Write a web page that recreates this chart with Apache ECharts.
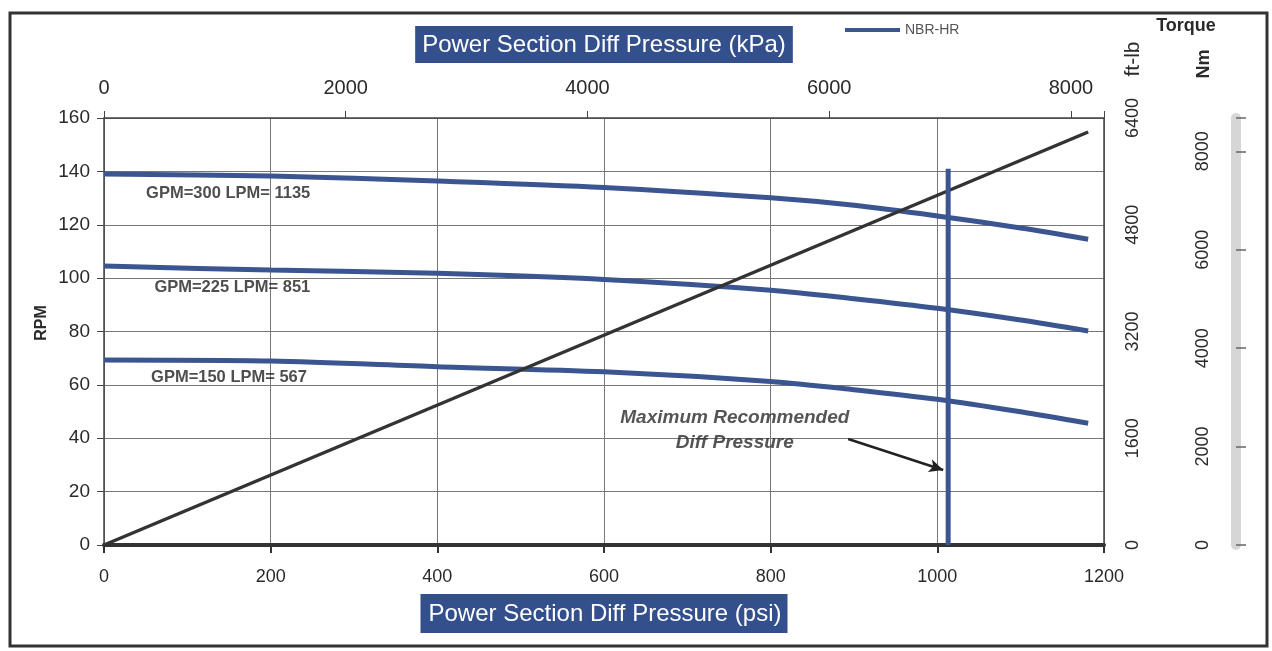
<!DOCTYPE html>
<html><head><meta charset="utf-8">
<script src="https://cdn.jsdelivr.net/npm/echarts@6/dist/echarts.min.js"></script>
<style>html,body{margin:0;padding:0;background:#fff}#c{width:1272px;height:651px}</style>
</head><body><div id="c"></div>
<script>
// ---- data ----
const psiPoints = [0, 200, 400, 600, 800, 900, 1000, 1100, 1181];
const rpm300 = [139.0, 138.3, 136.4, 134.0, 130.1, 127.3, 123.3, 118.8, 114.6];
const rpm225 = [104.5, 103.0, 101.8, 99.5, 95.5, 92.3, 88.7, 84.3, 80.2];
const rpm150 = [69.3, 68.9, 66.8, 64.9, 61.3, 58.2, 54.6, 49.9, 45.6];
const torquePsi = [0, 1181];
const torqueFtlb = [0, 6190];
const maxDiffPsi = 1013;
const maxDiffRpmTop = 141;
const curveLabels = ['GPM=300 LPM= 1135', 'GPM=225 LPM= 851', 'GPM=150 LPM= 567'];
const curveLabelAt = [[149, 131.9], [154, 96.5], [150, 62.8]];
const noteText = 'Maximum Recommended\nDiff Pressure';
const noteAt = [757, 43.1];
const arrowFrom = [893, 39.7];
const arrowTo = [1007, 28.1];
const PSI_TO_KPA = 6.894757;
const FTLB_TO_NM = 1.355818;

const FONT = 'Liberation Sans, Arial, sans-serif';
const BLUE = '#3a5590';
const TXT = '#2a2a2a';

const pair = (xs, ys) => xs.map((x, i) => [x, ys[i]]);
const plain = v => String(v);
const onlyMult = step => v => (Math.abs(v % step) < 1e-6 ? String(v) : '');

const chart = echarts.init(document.getElementById('c'));
chart.setOption({
  animation: false,
  backgroundColor: '#fff',
  grid: { left: 104, right: 168, top: 118, bottom: 106 },
  legend: {
    data: ['NBR-HR'], left: 840, top: 18, icon: 'rect', itemWidth: 55, itemHeight: 4, itemGap: 8,
    textStyle: { color: '#555', fontSize: 14, fontFamily: FONT }
  },
  xAxis: [
    {
      type: 'value', position: 'bottom', min: 0, max: 1200, interval: 200,
      name: 'Power Section Diff Pressure (psi)', nameLocation: 'middle', nameGap: 49,
      nameTextStyle: { color: '#fff', backgroundColor: '#34508c', fontSize: 24, fontFamily: FONT, padding: [8, 6, 7, 8] },
      axisLine: { show: true, onZero: false, lineStyle: { color: '#333', width: 4 } },
      axisTick: { show: true, length: 8, lineStyle: { color: '#333', width: 2 } },
      axisLabel: { color: TXT, fontSize: 18, fontFamily: FONT, margin: 23, formatter: plain },
      splitLine: { show: true, lineStyle: { color: '#777', width: 1 } }
    },
    {
      type: 'value', position: 'top', min: 0, max: 1200 * PSI_TO_KPA, interval: 2000,
      name: 'Power Section Diff Pressure (kPa)', nameLocation: 'middle', nameGap: 55,
      nameTextStyle: { color: '#fff', backgroundColor: '#34508c', fontSize: 24, fontFamily: FONT, padding: [7, 7, 6, 7] },
      axisLine: { show: true, onZero: false, lineStyle: { color: '#444', width: 1.5 } },
      axisTick: { show: true, length: 7, lineStyle: { color: '#444' } },
      axisLabel: { color: TXT, fontSize: 20, fontFamily: FONT, margin: 20, formatter: onlyMult(2000) },
      splitLine: { show: false }
    }
  ],
  yAxis: [
    {
      type: 'value', position: 'left', min: 0, max: 160, interval: 20,
      axisLine: { show: true, onZero: false, lineStyle: { color: '#444', width: 1.5 } },
      axisTick: { show: true, length: 7, lineStyle: { color: '#444' } },
      axisLabel: { color: TXT, fontSize: 19, fontFamily: FONT, margin: 14, formatter: plain },
      splitLine: { show: true, lineStyle: { color: '#777', width: 1 } }
    },
    {
      type: 'value', position: 'right', min: 0, max: 6400, interval: 1600,
      axisLine: { show: true, onZero: false, lineStyle: { color: '#444', width: 1.5 } },
      axisTick: { show: false },
      axisLabel: { color: TXT, fontSize: 18, fontFamily: FONT, margin: 20, rotate: 90, formatter: plain },
      splitLine: { show: false }
    },
    {
      type: 'value', position: 'right', offset: 132, min: 0, max: 6400 * FTLB_TO_NM, interval: 2000,
      axisLine: { show: true, onZero: false, lineStyle: { color: '#d6d6d6', width: 10 } },
      axisTick: { show: true, length: 10, lineStyle: { color: '#666', width: 1.5 } },
      axisLabel: { color: TXT, fontSize: 18, fontFamily: FONT, margin: 24, rotate: 90, inside: true, formatter: onlyMult(2000) },
      splitLine: { show: false }
    }
  ],
  graphic: [
    { type: 'rect', shape: { x: 10, y: 13, width: 1257, height: 633 }, style: { fill: 'none', stroke: '#333', lineWidth: 3 }, silent: true },
    { type: 'text', x: 1186, y: 26, style: { text: 'Torque', fontSize: 18, fontWeight: 'bold', fontFamily: FONT, fill: TXT, align: 'center', verticalAlign: 'middle' } },
    { type: 'text', x: 1204, y: 64, rotation: Math.PI / 2, style: { text: 'Nm', fontSize: 18, fontWeight: 'bold', fontFamily: FONT, fill: TXT, align: 'center', verticalAlign: 'middle' } },
    { type: 'text', x: 1133, y: 59, rotation: Math.PI / 2, style: { text: 'ft-lb', fontSize: 21, fontFamily: FONT, fill: TXT, align: 'center', verticalAlign: 'middle' } },
    { type: 'text', x: 42, y: 323, rotation: Math.PI / 2, style: { text: 'RPM', fontSize: 16, fontWeight: 'bold', fontFamily: FONT, fill: TXT, align: 'center', verticalAlign: 'middle' } }
  ],
  series: [
    { name: 'NBR-HR', type: 'line', data: pair(psiPoints, rpm300), smooth: 0.3, showSymbol: false, lineStyle: { color: BLUE, width: 5 }, itemStyle: { color: BLUE } },
    { name: 'NBR-HR', type: 'line', data: pair(psiPoints, rpm225), smooth: 0.3, showSymbol: false, lineStyle: { color: BLUE, width: 5 }, itemStyle: { color: BLUE } },
    { name: 'NBR-HR', type: 'line', data: pair(psiPoints, rpm150), smooth: 0.3, showSymbol: false, lineStyle: { color: BLUE, width: 5 }, itemStyle: { color: BLUE } },
    { name: 'Torque', type: 'line', yAxisIndex: 1, data: pair(torquePsi, torqueFtlb), showSymbol: false, lineStyle: { color: '#333', width: 3.5 } },
    {
      name: 'MaxDiff', type: 'line', data: [[maxDiffPsi, 0], [maxDiffPsi, maxDiffRpmTop]], showSymbol: false,
      lineStyle: { color: BLUE, width: 5 }, z: 3,
      markLine: {
        silent: true, symbol: ['none', 'arrow'], symbolSize: [10, 14], animation: false,
        label: { show: false }, lineStyle: { color: '#222', width: 2.5, type: 'solid' },
        data: [[{ coord: arrowFrom }, { coord: arrowTo }]]
      }
    },
    {
      name: 'labels', type: 'scatter', symbolSize: 0, silent: true,
      data: curveLabels.map((t, i) => ({ name: t, value: curveLabelAt[i] })),
      label: { show: true, position: 'inside', formatter: '{b}', color: '#222', fontSize: 16.5, fontWeight: 'bold', fontFamily: FONT }
    },
    {
      name: 'note', type: 'scatter', symbolSize: 0, silent: true,
      data: [{ name: noteText, value: noteAt }],
      label: { show: true, position: 'inside', formatter: '{b}', color: '#2a2a2a', fontSize: 19, fontWeight: 'bold', fontStyle: 'italic', fontFamily: FONT, lineHeight: 25, align: 'center' }
    }
  ]
});
</script>
</body></html>
